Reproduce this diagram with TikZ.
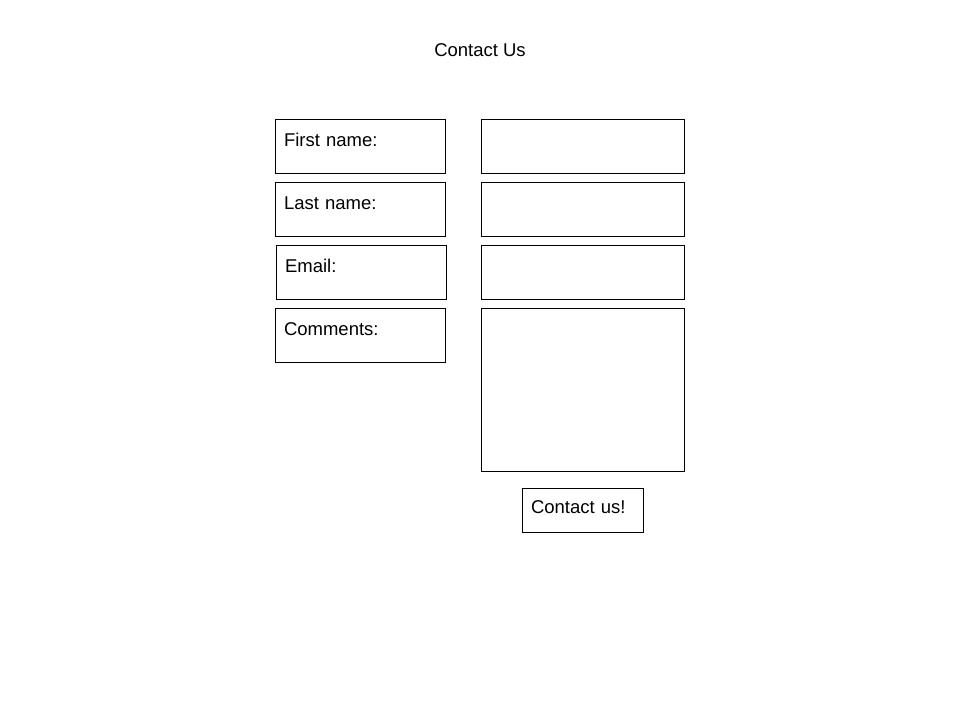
\documentclass[tikz,border=0pt]{standalone}
\usepackage{fontspec}
\setmainfont{Liberation Sans}
\usepackage{tikz}
\usetikzlibrary{positioning}

\begin{document}
\begin{tikzpicture}[x=1pt, y=-1pt, node distance=8pt, every node/.style={font=\fontsize{18.5}{22}\selectfont},
    fieldlabel/.style={rectangle, draw, line width=1pt, inner xsep=9pt, inner ysep=0pt, text width=152pt, text height=27pt, text depth=27pt, align=left},
    inputbox/.style={rectangle, draw, line width=1pt, minimum width=203pt, minimum height=54pt, inner sep=0pt},
    sendbtn/.style={rectangle, draw, line width=1pt, inner xsep=9pt, inner ysep=0pt, text width=103pt, text height=25pt, text depth=19pt, align=left}]
    \useasboundingbox (0,0) rectangle (960,720);
    \node (title) at (480,50) {Contact Us};

    \node (fname) [fieldlabel, anchor=north west] at (274.5,118.5) {First name:};
    \node (lname) [fieldlabel, below=of fname] {Last name:};
    \node (email) [fieldlabel, below=of lname, xshift=1pt] {Email:};
    \node (comments) [fieldlabel, below=of email, xshift=-1pt] {Comments:};

    \node (fnameBox) [inputbox, right=35pt of fname] {};
    \node (lnameBox) [inputbox, below=of fnameBox] {};
    \node (emailBox) [inputbox, below=of lnameBox] {};
    \node (commentsBox) [inputbox, below=of emailBox, minimum height=163pt] {};

    \node (send) [sendbtn, below=16pt of commentsBox] {Contact us!};
\end{tikzpicture}
\end{document}
